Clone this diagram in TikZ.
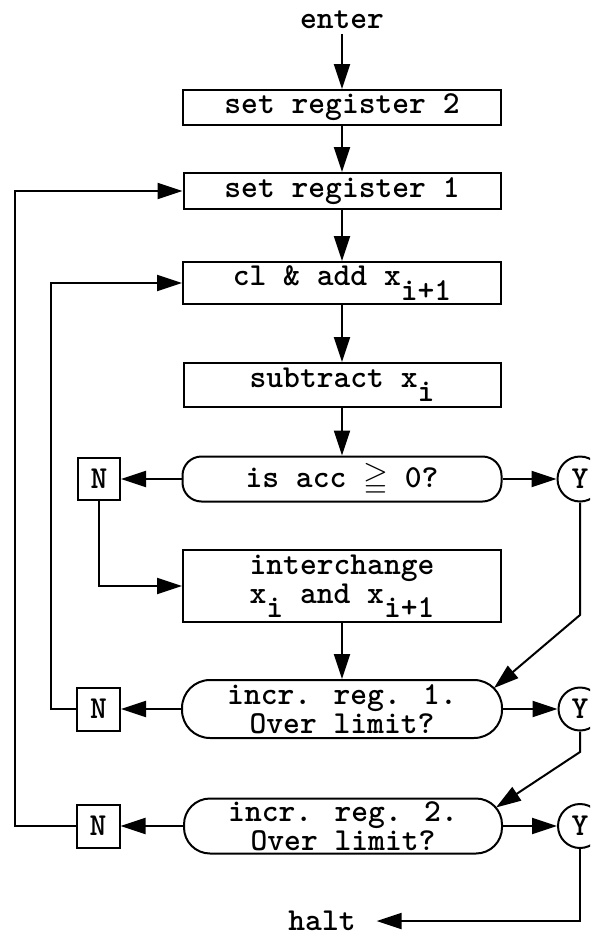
\documentclass[tikz,border=0pt]{standalone}
\usepackage{amssymb}
\usetikzlibrary{arrows.meta,calc}
\newcommand\lowsub[1]{\raisebox{-0.45em}{#1}}
\begin{document}
\begin{tikzpicture}[x=1pt,y=-1pt,line width=2pt,
  tw/.style={font=\fontsize{32}{29}\selectfont\ttfamily\bfseries},
  stepbox/.style={tw,draw,rectangle,inner sep=0pt,align=center},
  decbox/.style={stepbox},
  nbox/.style={tw,draw,rectangle,inner sep=0pt,minimum size=42},
  ybox/.style={tw,draw,circle,inner sep=0pt,minimum size=45},
  arr/.style={-{Triangle[length=25pt,width=16pt]}}]
\useasboundingbox (0,0) rectangle (590,937);
\clip (0,0) rectangle (590,937);
% nodes
\node[tw,inner sep=4pt] (enter) at (342,20) {enter};
\node[stepbox,minimum width=318,minimum height=35] (r2) at (342,107.5) {set register 2};
\node[stepbox,minimum width=317,minimum height=36] (r1) at (342,191) {set register 1};
\node[stepbox,minimum width=318,minimum height=42] (cl) at (342,283) {cl \& add x\lowsub{i+1}};
\node[stepbox,minimum width=317,minimum height=44] (sb) at (342,385) {subtract x\lowsub{i}};
\node[decbox,rounded corners=19pt,minimum width=319,minimum height=45] (d1) at (342,479) {is acc $\geqq$ 0?};
\node[nbox] (n1) at (99,479) {N};
\node[ybox] (y1) at (580,479) {Y};
\node[stepbox,minimum width=318,minimum height=72] (ic) at (342,586) {interchange\\x\lowsub{i} and x\lowsub{i+1}};
\node[decbox,rounded corners=28pt,minimum width=320,minimum height=58] (d2) at (342,709) {incr. reg. 1.\\Over limit?};
\node[nbox,minimum size=43] (n2) at (98.5,709) {N};
\node[ybox,minimum size=43] (y2) at (580,709) {Y};
\node[decbox,rounded corners=26pt,minimum width=318,minimum height=55] (d3) at (343,826) {incr. reg. 2.\\Over limit?};
\node[nbox,minimum size=43] (n3) at (98,826) {N};
\node[ybox,minimum size=44] (y3) at (580,826) {Y};
\node[tw,inner xsep=20pt,inner ysep=0pt] (halt) at (322,921) {halt};
\coordinate (b1) at (580,615);
\coordinate (b2) at (580,752);
% connectors
\draw[arr] (enter) -- (r2);
\draw[arr] (r2) -- (r1);
\draw[arr] (r1) -- (cl);
\draw[arr] (cl) -- (sb);
\draw[arr] (sb) -- (d1);
\draw[arr] (d1.west) -- (n1.east);
\draw[arr] (d1.east) -- (y1.west);
\draw[arr] (n1.south) |- (ic.west);
\draw[arr] (ic) -- (d2);
\draw[arr] (y1.south) -- (b1) -- ($(d2.east)+(-9,-21)$);
\draw[arr] (d2.west) -- (n2.east);
\draw[arr] (d2.east) -- (y2.west);
\draw[arr] (n2.west) -- ++(-25,0) |- (cl.west);
\draw[arr] (y2.south) -- (b2) -- ($(d3.east)+(-7,-18.5)$);
\draw[arr] (d3.west) -- (n3.east);
\draw[arr] (d3.east) -- (y3.west);
\draw[arr] (n3.west) -- ++(-61,0) |- (r1.west);
\draw[arr] (y3.south) |- (halt.east);
\end{tikzpicture}
\end{document}
